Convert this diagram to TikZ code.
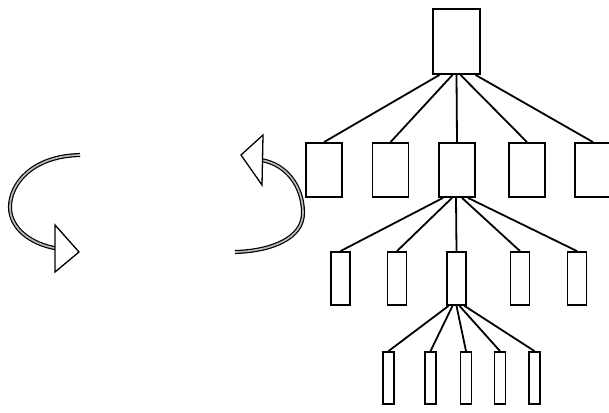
\documentclass[tikz,border=0pt]{standalone}
\usepackage{tikz}
\usetikzlibrary{calc, positioning}

\begin{document}
\begin{tikzpicture}[x=1pt, y=-1pt, line width=1.8pt,
    box/.style={draw, inner sep=0pt, minimum width=#1},
    turn/.style={draw=black, line width=1.2pt, double=gray!55, double distance=1.7pt},
    turnhead/.style={draw=black, fill=white, line width=1.3pt, line join=miter},
  ]
    \useasboundingbox (0,0) rectangle (609,412);

    % the tree
    \node (top) [box=47pt, minimum height=65pt] at (456.5,41.5) {};
    \foreach \i/\x in {1/324,2/390.5,3/457,4/527,5/593}
      \node (mid\i) [box=36pt, minimum height=54pt] at (\x,170) {};
    \foreach \i/\x in {1/340.5,2/397,3/456.5,4/520,5/577}
      \node (low\i) [box=19pt, minimum height=53pt] at (\x,278.5) {};
    \foreach \i/\x in {1/388.5,2/430.5,3/466,4/500,5/534.5}
      \node (leaf\i) [box=11pt, minimum height=52pt] at (\x,378) {};

    \foreach \i/\dx in {1/-17,2/-4,3/0,4/4,5/19}
      \draw ([xshift=\dx pt]top.south) -- (mid\i.north);
    \foreach \i/\dx in {1/-14,2/-5,3/-1,4/5,5/11}
      \draw ([xshift=\dx pt]mid3.south) -- (low\i.north);
    \foreach \i/\dx in {1/-8,2/-4,3/0,4/3,5/8}
      \draw ([xshift=\dx pt]low3.south) -- (leaf\i.north);

    % the two turning arrows
    \draw[turn] (80,155) .. controls (32,156) and (10,184) .. (10,207)
      .. controls (10,228) and (30,244) .. (57,248.5);
    \draw[turnhead] (55,225) -- (79,252) -- (55,272) -- cycle;

    \draw[turn] (235,252) .. controls (272,251) and (303,238) .. (303,213)
      .. controls (303,186) and (286,164) .. (261,160);
    \draw[turnhead] (241,155) -- (263,135) -- (262,185) -- cycle;
\end{tikzpicture}
\end{document}
